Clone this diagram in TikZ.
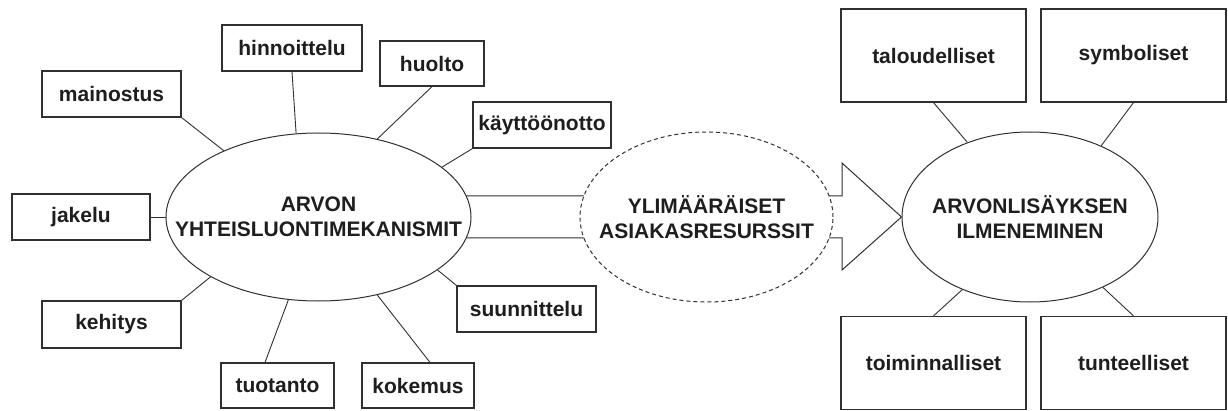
\documentclass[tikz,border=0pt]{standalone}
\usepackage{fontspec}
\setmainfont{Liberation Sans}
\usetikzlibrary{shapes.geometric,backgrounds}
\definecolor{ink}{HTML}{1E1E1E}
\definecolor{rule}{HTML}{303030}
\begin{document}
\begin{tikzpicture}[x=1pt,y=1pt,
  every node/.style={font=\bfseries\fontsize{21}{25}\selectfont, text=ink},
  box/.style={draw=rule, line width=1.2pt, fill=white, inner sep=0pt, minimum height=46pt},
  bigbox/.style={box, minimum width=185pt, minimum height=93pt},
  oval/.style={ellipse, draw=rule, line width=1pt, fill=white, inner sep=0pt},
  dashedoval/.style={oval, dash pattern=on 4pt off 3pt},
  spoke/.style={draw=rule, line width=0.9pt},
  bigarrow/.style={draw=rule, line width=1pt, line join=miter}
]
\useasboundingbox (0,0) rectangle (1228,410);

% the three central ovals
\node[oval, minimum width=305pt, minimum height=168pt] (e1) at (318.5,193) {};
\node[dashedoval, minimum width=253pt, minimum height=170pt] (e2) at (706.5,193) {};
\node[oval, minimum width=256pt, minimum height=170pt] (e3) at (1030,193) {};
\node[align=center] (t1) at (e1.center) {ARVON\\YHTEISLUONTIMEKANISMIT};
\node[align=center] (t2) at (e2.center) {YLIMÄÄRÄISET\\ASIAKASRESURSSIT};
\node[align=center] (t3) at (e3.center) {ARVONLISÄYKSEN\\ILMENEMINEN};

% mechanisms around the left oval
\node[box, minimum width=139pt] (mainostus) at (111.5,316) {mainostus};
\node[box, minimum width=140pt] (hinnoittelu) at (292,362) {hinnoittelu};
\node[box, minimum width=104pt, minimum height=45pt] (huolto) at (432,346.5) {huolto};
\node[box, minimum width=138pt] (kaytto) at (542,285) {käyttöönotto};
\node[box, minimum width=138pt] (jakelu) at (81,193) {jakelu};
\node[box, minimum width=139pt, minimum height=47pt] (kehitys) at (111.5,85.5) {kehitys};
\node[box, minimum width=113pt, minimum height=45pt] (tuotanto) at (277.5,24.5) {tuotanto};
\node[box, minimum width=112pt, minimum height=45pt] (kokemus) at (418,24.5) {kokemus};
\node[box, minimum width=139pt] (suunnittelu) at (526.5,101) {suunnittelu};

% kinds of added value around the right oval
\node[bigbox] (taloudelliset) at (933.5,354.5) {taloudelliset};
\node[bigbox] (symboliset) at (1133.5,354.5) {symboliset};
\node[bigbox] (toiminnalliset) at (933.5,47) {toiminnalliset};
\node[bigbox] (tunteelliset) at (1133.5,47) {tunteelliset};

% arrow head points
\coordinate (neckup) at (842,214);
\coordinate (headup) at (842,247);
\coordinate (headdown) at (842,140);
\coordinate (neckdown) at (842,172);

\begin{scope}[on background layer]
  % broad arrow running through the dashed oval
  \draw[bigarrow] ([yshift=21pt]e1.center) -- (neckup) -- (headup) -- (e3.west)
    -- (headdown) -- (neckdown) -- ([yshift=-21pt]e1.center);
  % spokes
  \draw[spoke] (mainostus.south east) -- (e1.145.9);
  \draw[spoke] (hinnoittelu.south) -- (e1.105);
  \draw[spoke] (huolto.south) -- (e1.53);
  \draw[spoke] (kaytto.south west) -- (e1.22);
  \draw[spoke] (jakelu.east) -- (e1.west);
  \draw[spoke] (kehitys.north east) -- (e1.209.1);
  \draw[spoke] ([xshift=-12.5pt]tuotanto.north) -- (e1.250);
  \draw[spoke] ([xshift=12pt]kokemus.north) -- (e1.307.6);
  \draw[spoke] (suunnittelu.north west) -- (e1.336.8);
  \draw[spoke] (taloudelliset.south) -- (e3.130.4);
  \draw[spoke] (symboliset.south) -- (e3.45.8);
  \draw[spoke] (toiminnalliset.north) -- (e3.227);
  \draw[spoke] (tunteelliset.north) -- (e3.316.2);
\end{scope}
\end{tikzpicture}
\end{document}
